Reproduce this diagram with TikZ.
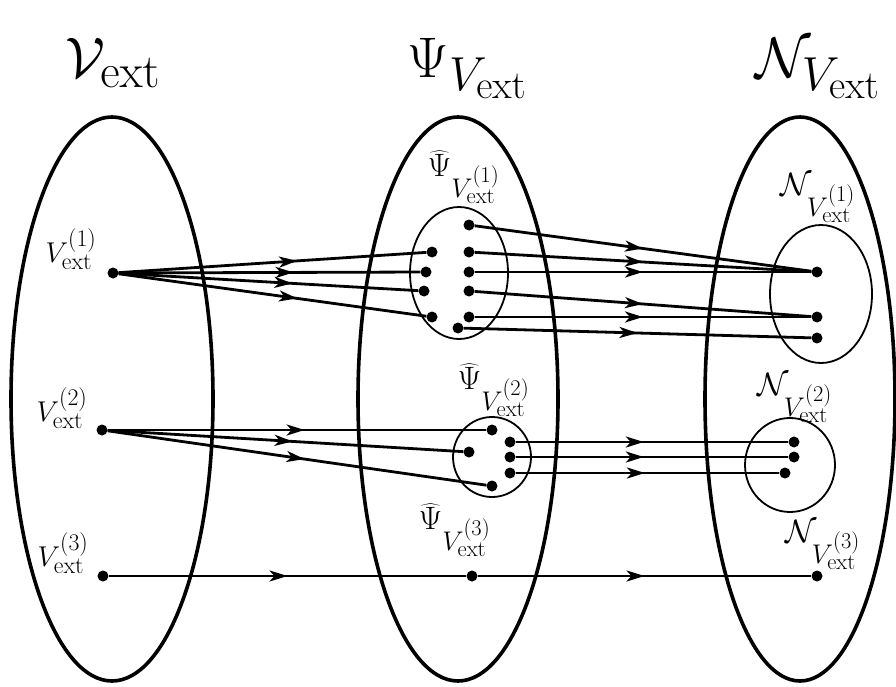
\documentclass[tikz,border=0pt]{standalone}
\usetikzlibrary{arrows.meta,decorations.markings}
\begin{document}
\begin{tikzpicture}[x=1pt,y=-1pt,
  big/.style={line width=3.6pt},
  small/.style={line width=1.8pt},
  dot/.style={circle,fill=black,inner sep=0pt,minimum size=11pt},
  flow/.style={line width=2.8pt,postaction={decorate},
    decoration={markings,mark=at position #1 with {\arrow{Stealth[length=18pt,width=11pt,inset=5pt]}}}},
  flow/.default=0.5,
  title/.style={font=\Huge,inner sep=0pt,scale=2.3,anchor=base},
  lab/.style={font=\Huge,inner sep=0pt,scale=1.15},
  sublab/.style={font=\Huge,inner sep=0pt,scale=1.3}
]
\useasboundingbox (0,0) rectangle (896,687);

% big sets
\draw[big] (112,399) ellipse [x radius=101pt, y radius=282pt];
\draw[big] (458,399) ellipse [x radius=100pt, y radius=282pt];
\draw[big] (800,399) ellipse [x radius=95pt, y radius=282pt];
% small sets
\draw[small] (459,273) ellipse [x radius=49pt, y radius=66pt];
\draw[small] (821,294) ellipse [x radius=51pt, y radius=69pt];
\draw[small] (492,457) ellipse [x radius=39pt, y radius=40pt];
\draw[small] (790,465) ellipse [x radius=45pt, y radius=47pt];

% titles
\node[title] (t1) at (113,78) {$\mathcal{V}_{\mathrm{ext}}$};
\node[title] (t2) at (468,78) {$\Psi_{V_{\mathrm{ext}}}$};
\node[title] (t3) at (818,78) {$\mathcal{N}_{V_{\mathrm{ext}}}$};

% labels
\node[lab] (v1) at (71,249) {$V^{(1)}_{\mathrm{ext}}$};
\node[lab] (v2) at (62,408) {$V^{(2)}_{\mathrm{ext}}$};
\node[lab] (v3) at (63,553) {$V^{(3)}_{\mathrm{ext}}$};
\node[sublab] (p1) at (464,177) {$\widehat{\Psi}_{V^{(1)}_{\mathrm{ext}}}$};
\node[sublab] (n1) at (818,198) {$\mathcal{N}_{V^{(1)}_{\mathrm{ext}}}$};
\node[sublab] (p2) at (494,390) {$\widehat{\Psi}_{V^{(2)}_{\mathrm{ext}}}$};
\node[sublab] (n2) at (795,398) {$\mathcal{N}_{V^{(2)}_{\mathrm{ext}}}$};
\node[sublab] (p3) at (455,530) {$\widehat{\Psi}_{V^{(3)}_{\mathrm{ext}}}$};
\node[sublab] (n3) at (823,545) {$\mathcal{N}_{V^{(3)}_{\mathrm{ext}}}$};

% dots
\node[dot] (S1) at (113,273) {};
\node[dot] (S2) at (102,430) {};
\node[dot] (S3) at (103,576) {};
\node[dot] (L1) at (432,252) {};
\node[dot] (L2) at (426,272) {};
\node[dot] (L3) at (424,291) {};
\node[dot] (L4) at (432,317) {};
\node[dot] (R1) at (469,225) {};
\node[dot] (R2) at (469,252) {};
\node[dot] (R3) at (469,272) {};
\node[dot] (R4) at (469,291) {};
\node[dot] (R5) at (469,317) {};
\node[dot] (R6) at (458,328) {};
\node[dot] (Na) at (817,272) {};
\node[dot] (Nb) at (817,317) {};
\node[dot] (Nc) at (817,338) {};
\node[dot] (P1) at (492,430) {};
\node[dot] (P2) at (469,452) {};
\node[dot] (P3) at (492,486) {};
\node[dot] (Q1) at (510,442) {};
\node[dot] (Q2) at (510,457) {};
\node[dot] (Q3) at (510,473) {};
\node[dot] (M1) at (794,442) {};
\node[dot] (M2) at (794,457) {};
\node[dot] (M3) at (785,473) {};
\node[dot] (C3) at (472,576) {};
\node[dot] (E3) at (817,576) {};

% row 1
\foreach \t in {L1,L2,L3,L4} \draw[flow=0.58] (S1) -- (\t);
\foreach \s in {R1,R2,R3} \draw[flow=0.5] (\s) -- (Na);
\foreach \s in {R4,R5} \draw[flow=0.5] (\s) -- (Nb);
\draw[flow=0.5] (R6) -- (Nc);
% row 2
\foreach \t in {P1,P2,P3} \draw[flow=0.52] (S2) -- (\t);
\draw[flow=0.47] (Q1) -- (M1);
\draw[flow=0.47] (Q2) -- (M2);
\draw[flow=0.49] (Q3) -- (M3);
% row 3
\draw[flow=0.5] (S3) -- (C3);
\draw[flow=0.5] (C3) -- (E3);
\end{tikzpicture}
\end{document}
